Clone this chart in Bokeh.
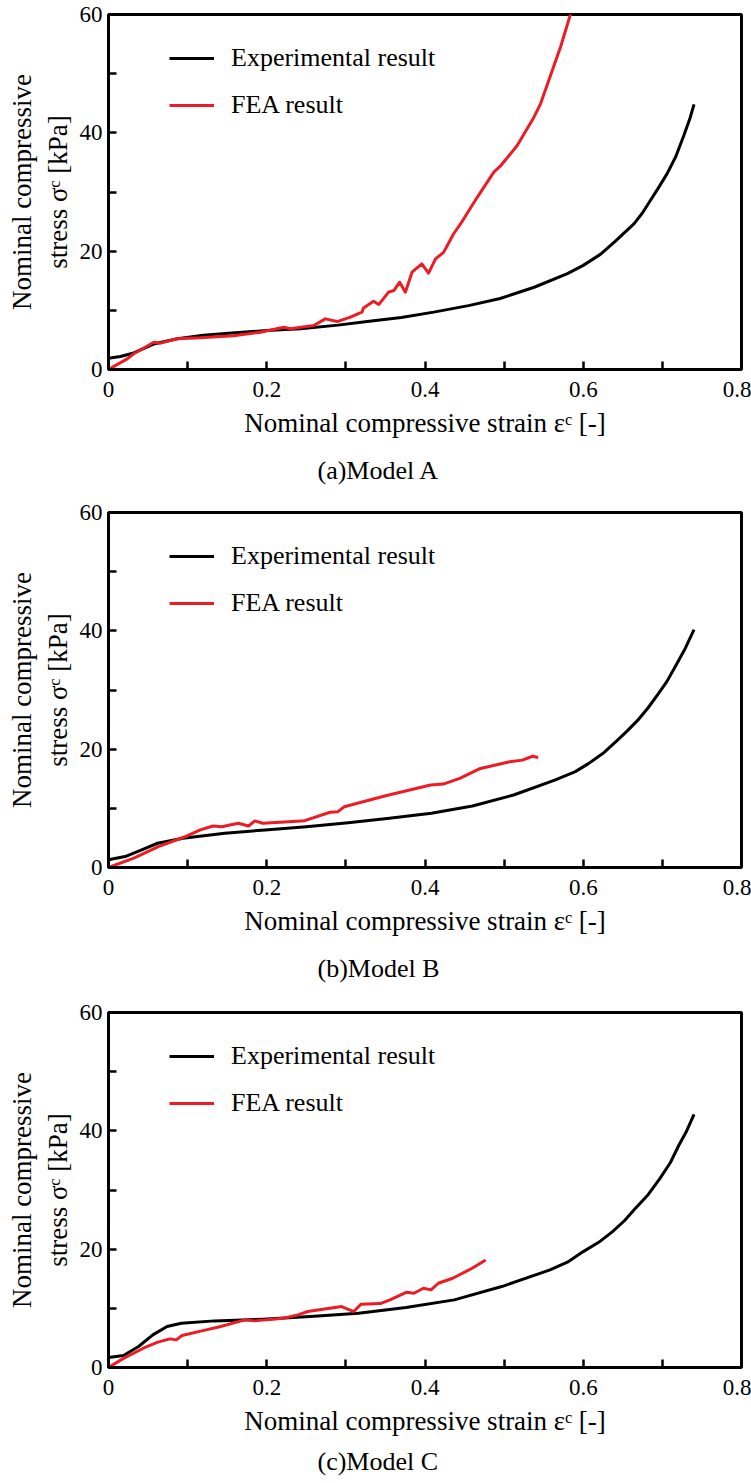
from bokeh.plotting import figure
from bokeh.layouts import column
from bokeh.models import Range1d, FixedTicker, Legend, LegendItem, Title
from bokeh.embed import file_html
from bokeh.resources import INLINE

# ---------------- data ----------------
x_ticks = [0, 0.2, 0.4, 0.6, 0.8]
x_tick_labels = ["0", "0.2", "0.4", "0.6", "0.8"]
x_minor_ticks = [0.1, 0.3, 0.5, 0.7]
y_ticks = [0, 20, 40, 60]
y_tick_labels = ["0", "20", "40", "60"]
y_minor_ticks = [10, 30, 50]

series_names = ["Experimental result", "FEA result"]
captions = ["(a)Model A", "(b)Model B", "(c)Model C"]
x_title = "Nominal compressive strain \u03b5\u1d9c [-]"
y_title_1 = "Nominal compressive"
y_title_2 = "stress \u03c3\u1d9c [kPa]"

# Model A
expA_strain = [0, 0.015, 0.032, 0.057, 0.087, 0.12, 0.16, 0.2, 0.243, 0.29, 0.327, 0.37,
               0.411, 0.455, 0.495, 0.538, 0.58, 0.6, 0.622, 0.64, 0.664, 0.675, 0.685,
               0.695, 0.706, 0.717, 0.727, 0.735, 0.74]
expA_stress = [1.9, 2.2, 2.8, 4.3, 5.2, 5.8, 6.2, 6.6, 6.9, 7.5, 8.1, 8.8,
               9.7, 10.8, 12.0, 13.9, 16.2, 17.6, 19.5, 21.6, 24.6, 26.5, 28.6,
               30.7, 33.1, 36.0, 39.5, 42.5, 44.8]
feaA_strain = [0, 0.0236, 0.032, 0.0573, 0.0657, 0.0868, 0.116, 0.158, 0.192, 0.2215, 0.23,
               0.2595, 0.274, 0.289, 0.3058, 0.3203, 0.3223, 0.335, 0.3417, 0.354, 0.3606,
               0.368, 0.3752, 0.3836, 0.396, 0.4045, 0.4133, 0.4235, 0.436, 0.4449, 0.466,
               0.487, 0.4954, 0.5165, 0.5375, 0.546, 0.5586, 0.5713, 0.584, 0.592]
feaA_stress = [0, 1.8, 2.65, 4.6, 4.45, 5.2, 5.35, 5.7, 6.3, 7.15, 6.9,
               7.44, 8.56, 8.1, 8.85, 9.7, 10.4, 11.55, 11.0, 13.07, 13.35,
               14.75, 13.07, 16.45, 17.86, 16.3, 18.7, 19.8, 22.9, 24.6, 29.1,
               33.35, 34.4, 37.86, 42.6, 44.9, 49.7, 54.5, 60.1, 62.5]

# Model B
expB_strain = [0, 0.021, 0.042, 0.062, 0.094, 0.147, 0.198, 0.25, 0.303, 0.355, 0.408,
               0.46, 0.512, 0.564, 0.59, 0.607, 0.625, 0.643, 0.655, 0.669, 0.682,
               0.695, 0.706, 0.716, 0.728, 0.74]
expB_stress = [1.3, 1.85, 2.98, 4.1, 4.94, 5.79, 6.35, 6.9, 7.58, 8.31, 9.16,
               10.39, 12.25, 14.78, 16.2, 17.6, 19.3, 21.5, 23.0, 24.9, 27.0,
               29.4, 31.5, 33.9, 36.8, 40.2]
feaB_strain = [0, 0.032, 0.063, 0.095, 0.116, 0.132, 0.143, 0.164, 0.177, 0.185, 0.195,
               0.217, 0.248, 0.28, 0.29, 0.298, 0.349, 0.407, 0.423, 0.444, 0.47,
               0.507, 0.523, 0.536, 0.543]
feaB_stress = [0, 1.57, 3.54, 5.11, 6.35, 7.02, 6.9, 7.47, 7.02, 7.87, 7.47,
               7.64, 7.92, 9.33, 9.44, 10.28, 12.08, 13.93, 14.1, 15.06, 16.74,
               17.87, 18.15, 18.8, 18.6]

# Model C
expC_strain = [0, 0.019, 0.038, 0.056, 0.074, 0.092, 0.134, 0.195, 0.255, 0.316, 0.376,
               0.437, 0.497, 0.558, 0.58, 0.6, 0.62, 0.637, 0.652, 0.666, 0.682,
               0.697, 0.71, 0.721, 0.73, 0.74]
expC_stress = [1.69, 2.03, 3.55, 5.52, 6.92, 7.49, 7.88, 8.16, 8.61, 9.18, 10.13,
               11.43, 13.68, 16.49, 17.8, 19.59, 21.2, 22.97, 24.8, 26.9, 29.2,
               31.97, 34.6, 37.6, 39.8, 42.8]
feaC_strain = [0, 0.0196, 0.044, 0.0623, 0.0776, 0.0856, 0.0929, 0.1234, 0.1418, 0.1723,
               0.1846, 0.2212, 0.2396, 0.2518, 0.2946, 0.31, 0.319, 0.3435, 0.3557, 0.377,
               0.386, 0.398, 0.4076, 0.4168, 0.435, 0.4596, 0.4767]
feaC_stress = [0, 1.58, 3.26, 4.28, 4.84, 4.67, 5.4, 6.36, 6.92, 8.05,
               7.88, 8.33, 8.89, 9.46, 10.3, 9.46, 10.7, 10.8, 11.43, 12.72,
               12.55, 13.4, 13.12, 14.24, 15.09, 16.77, 18.18]

# (exp x, exp y, fea x, fea y, caption, figure height, bottom border, caption standoff)
panels = [
    (expA_strain, expA_stress, feaA_strain, feaA_stress, captions[0], 498, 129, 26),
    (expB_strain, expB_stress, feaB_strain, feaB_stress, captions[1], 500, 131, 26),
    (expC_strain, expC_stress, feaC_strain, feaC_stress, captions[2], 485, 116, 12),
]

FONT = "Liberation Serif"
RED = "#ed1c24"


def make_panel(ex, ey, fx, fy, caption, h, bottom, cap_standoff):
    p = figure(width=751, height=h, x_range=Range1d(0, 0.8), y_range=Range1d(0, 60),
               output_backend="svg", toolbar_location=None,
               min_border_left=108, min_border_right=10, min_border_top=14,
               min_border_bottom=bottom)
    p.xgrid.visible = False
    p.ygrid.visible = False
    p.outline_line_color = "black"
    p.outline_line_width = 3
    p.background_fill_color = "white"
    p.border_fill_color = "white"

    xa = p.xaxis[0]
    ya = p.yaxis[0]
    xa.ticker = FixedTicker(ticks=x_ticks, minor_ticks=x_minor_ticks)
    ya.ticker = FixedTicker(ticks=y_ticks, minor_ticks=y_minor_ticks)
    xa.major_label_overrides = dict(zip(x_ticks, x_tick_labels))
    ya.major_label_overrides = dict(zip(y_ticks, y_tick_labels))
    for ax in (xa, ya):
        ax.axis_line_width = 3
        ax.axis_line_color = "black"
        ax.major_tick_in = 8
        ax.major_tick_out = 0
        ax.minor_tick_in = 8
        ax.minor_tick_out = 0
        ax.major_tick_line_width = 2.5
        ax.minor_tick_line_width = 2.5
        ax.major_tick_line_color = "black"
        ax.minor_tick_line_color = "black"
        ax.major_label_text_font = FONT
        ax.major_label_text_font_style = "normal"
        ax.major_label_text_font_size = "23px"
        ax.major_label_text_color = "black"
        ax.axis_label_text_font = FONT
        ax.axis_label_text_font_size = "27px"
        ax.axis_label_text_font_style = "normal"
        ax.axis_label_text_color = "black"
    xa.major_label_standoff = 12
    ya.major_label_standoff = 6
    xa.axis_label = x_title
    xa.axis_label_standoff = 8
    ya.axis_label = y_title_2
    ya.axis_label_standoff = 4

    p.add_layout(Title(text=y_title_1, align="center", text_font=FONT,
                       text_font_size="27px", text_font_style="normal",
                       text_color="black", standoff=6), "left")
    p.add_layout(Title(text=caption, align="left", offset=209, text_font=FONT,
                       text_font_size="26px", text_font_style="normal",
                       text_color="black", standoff=cap_standoff), "below")

    r1 = p.line(ex, ey, line_color="black", line_width=3, line_join="round")
    r2 = p.line(fx, fy, line_color=RED, line_width=3, line_join="round")

    legend = Legend(items=[LegendItem(label=series_names[0], renderers=[r1]),
                           LegendItem(label=series_names[1], renderers=[r2])],
                    location=(61, 249), orientation="vertical",
                    label_text_font=FONT, label_text_font_size="26px",
                    label_text_font_style="normal",
                    label_text_color="black",
                    glyph_width=45, glyph_height=28, label_height=28,
                    spacing=17, padding=0, margin=0, label_standoff=17,
                    border_line_color=None, background_fill_alpha=0)
    p.add_layout(legend)
    return p


figs = [make_panel(*args) for args in panels]
layout = column(*figs, spacing=0)

open("out.html", "w").write(file_html(layout, INLINE))
